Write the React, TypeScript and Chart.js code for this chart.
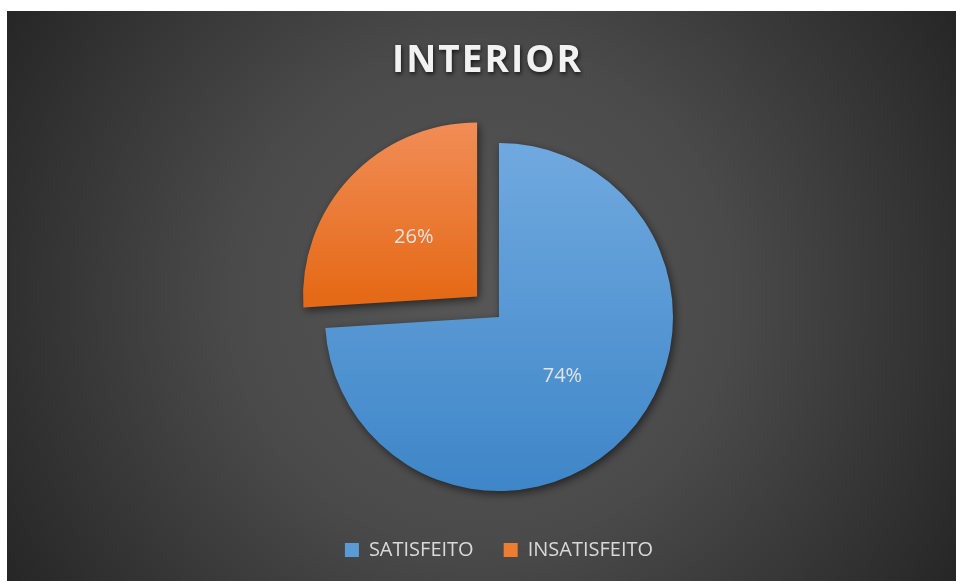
import React, { useEffect, useRef } from "react";
import { Chart, registerables } from "chart.js";

Chart.register(...registerables);

const TITLE = "INTERIOR";
const CATEGORIES = ["SATISFEITO", "INSATISFEITO"];
const VALUES = [74, 26];
const LABELS_PCT = ["74%", "26%"];
const OFFSETS = [0, 120];
const TOP_COLORS = ["#70a9df", "#f18d57"];
const BOTTOM_COLORS = ["#3e86c8", "#e56a17"];
const BASE_COLORS = ["#5b9bd5", "#ed7d31"];
const RADIUS = 174;

const FONT = "'Open Sans', 'DejaVu Sans', sans-serif";

function geom(chart: any) {
  const a = chart.chartArea;
  const cx = (a.left + a.right) / 2;
  const cy = (a.top + a.bottom) / 2;
  return { cx, cy, r: RADIUS };
}

const bgPlugin = {
  id: "bgPlugin",
  beforeDraw(chart: any) {
    const { ctx, width, height } = chart;
    ctx.save();
    const g = ctx.createRadialGradient(width * 0.5, height * 0.5, 0, width * 0.5, height * 0.5, Math.hypot(width, height) * 0.5);
    g.addColorStop(0, "#575757");
    g.addColorStop(0.45, "#4a4a4a");
    g.addColorStop(1, "#262626");
    ctx.fillStyle = g;
    ctx.fillRect(0, 0, width, height);
    ctx.restore();
  },
  beforeDatasetsDraw(chart: any) {
    const { ctx } = chart;
    ctx.save();
    ctx.shadowColor = "rgba(0,0,0,0.55)";
    ctx.shadowBlur = 8;
    ctx.shadowOffsetX = 2;
    ctx.shadowOffsetY = 3;
  },
  afterDatasetsDraw(chart: any) {
    const { ctx } = chart;
    ctx.restore();
    // data labels
    const meta = chart.getDatasetMeta(0);
    ctx.save();
    ctx.font = `20px ${FONT}`;
    ctx.fillStyle = "#e3e3e3";
    ctx.textAlign = "center";
    ctx.textBaseline = "middle";
    meta.data.forEach((arc: any, i: number) => {
      const p = arc.getProps(["x", "y", "startAngle", "endAngle", "outerRadius"], true);
      const mid = (p.startAngle + p.endAngle) / 2;
      const off = (OFFSETS[i] || 0) / 4;
      const d = p.outerRadius * 0.5 + off;
      ctx.fillText(LABELS_PCT[i], p.x + Math.cos(mid) * d, p.y + Math.sin(mid) * d);
    });
    ctx.restore();
    // title
    ctx.save();
    ctx.font = `bold 37px ${FONT}`;
    (ctx as any).letterSpacing = "2px";
    ctx.textAlign = "center";
    ctx.textBaseline = "alphabetic";
    ctx.shadowColor = "rgba(0,0,0,0.7)";
    ctx.shadowBlur = 4;
    ctx.shadowOffsetX = 1;
    ctx.shadowOffsetY = 2;
    ctx.fillStyle = "#f2f2f2";
    ctx.fillText(TITLE, 480.5, 61);
    ctx.restore();
  },
};

export default function App() {
  const ref = useRef<HTMLCanvasElement | null>(null);
  useEffect(() => {
    if (!ref.current) return;
    const chart = new Chart(ref.current, {
      type: "pie",
      data: {
        labels: CATEGORIES,
        datasets: [
          {
            data: VALUES,
            offset: OFFSETS,
            radius: RADIUS,
            borderWidth: 0,
            backgroundColor: (c: any) => {
              const ch = c.chart;
              if (!ch.chartArea || c.dataIndex === undefined) return BASE_COLORS[c.dataIndex ?? 0];
              const { cy, r } = geom(ch);
              const i = c.dataIndex;
              const top = cy - r;
              const bottom = i === 0 ? cy + r : cy;
              const g = ch.ctx.createLinearGradient(0, top, 0, bottom);
              g.addColorStop(0, TOP_COLORS[i]);
              g.addColorStop(1, BOTTOM_COLORS[i]);
              return g;
            },
          } as any,
        ],
      },
      options: {
        animation: false,
        responsive: false,
        maintainAspectRatio: false,
        layout: { padding: { left: 35, right: 0, top: 113, bottom: 11 } },
        plugins: {
          title: { display: false },
          tooltip: { enabled: false },
          legend: {
            display: true,
            position: "bottom",
            labels: {
              boxWidth: 14,
              boxHeight: 14,
              padding: 30,
              color: "#d9d9d9",
              font: { family: FONT, size: 20 },
              generateLabels: () =>
                CATEGORIES.map((t, i) => ({
                  text: t,
                  fillStyle: BASE_COLORS[i],
                  strokeStyle: BASE_COLORS[i],
                  lineWidth: 0,
                  fontColor: "#d9d9d9",
                  hidden: false,
                  index: i,
                })),
            },
          },
        },
      },
      plugins: [bgPlugin],
    });
    return () => chart.destroy();
  }, []);
  return (
    <div style={{ position: "absolute", left: 7, top: 11, width: 949, height: 570 }}>
      <canvas ref={ref} width={949} height={570} style={{ display: "block", width: 949, height: 570 }} />
    </div>
  );
}
